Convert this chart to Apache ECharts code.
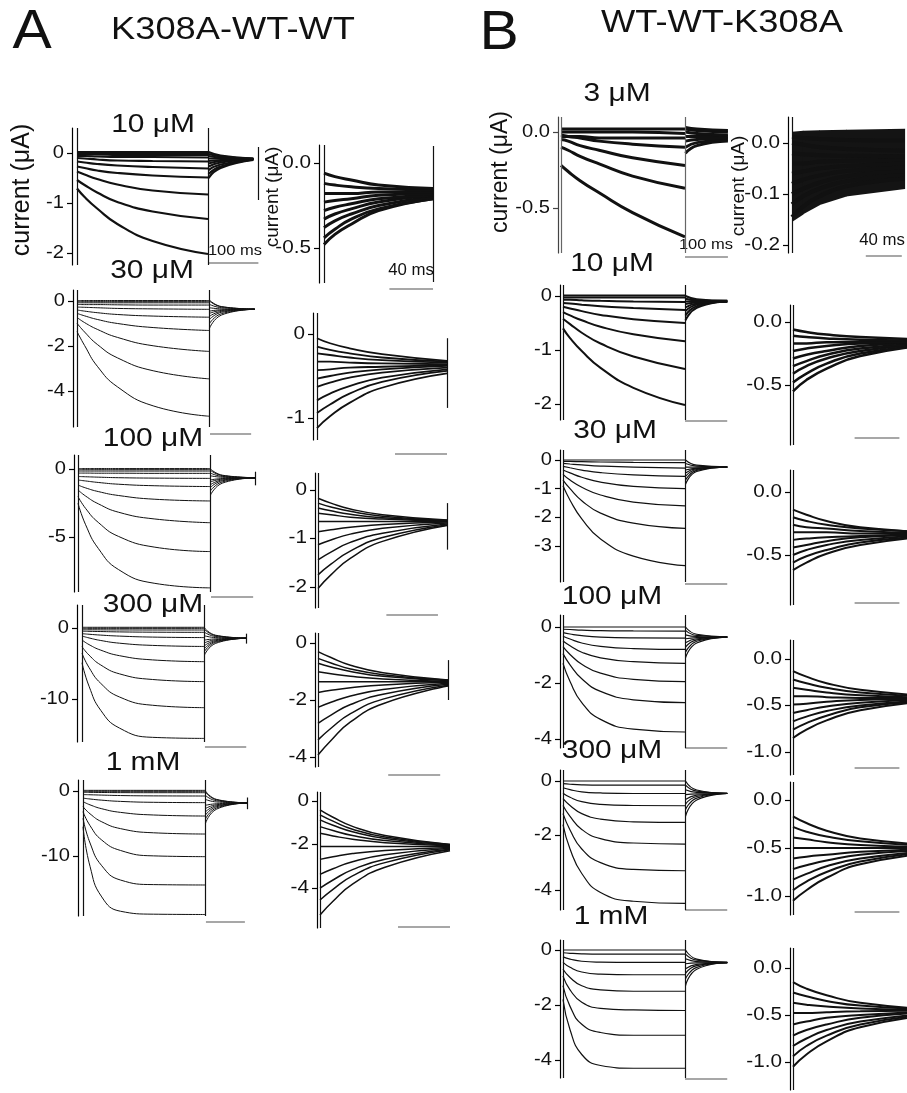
<!DOCTYPE html>
<html><head><meta charset="utf-8">
<script src="https://cdn.jsdelivr.net/npm/echarts@6/dist/echarts.min.js"></script>
<style>html,body{margin:0;padding:0;background:#fff}#c{width:907px;height:1093px}</style>
</head><body><div id="c"></div>
<script>
// ---------- time bases (ms) ----------
const T_MAIN = [0, 15, 40, 80, 150, 260];
const T_MAIN_TAIL = [261, 285, 350];
const T_TAIL_A = [0, 10, 25, 50, 100];
const T_TAIL_B = [0, 12, 30, 60, 125];

// ---------- tick labels ----------
const TICKS_A10 = [0, -1, -2];
const TICKS_A30 = [0, -2, -4];
const TICKS_A100 = [0, -5];
const TICKS_A300 = [0, -10];
const TICKS_A1M = [0, -10];
const TICKS_A10T = [0, -0.5];
const TICKS_A30T = [0, -1];
const TICKS_A100T = [0, -1, -2];
const TICKS_A300T = [0, -2, -4];
const TICKS_A1MT = [0, -2, -4];
const TICKS_B3 = [0, -0.5];
const TICKS_B10 = [0, -1, -2];
const TICKS_B30 = [0, -1, -2, -3];
const TICKS_B100 = [0, -2, -4];
const TICKS_B300 = [0, -2, -4];
const TICKS_B1M = [0, -2, -4];
const TICKS_B3T = [0, -0.1, -0.2];
const TICKS_B10T = [0, -0.5];
const TICKS_B30T = [0, -0.5];
const TICKS_B100T = [0, -0.5, -1];
const TICKS_B300T = [0, -0.5, -1];
const TICKS_B1MT = [0, -0.5, -1];

// ---------- A: K308A-WT-WT, activation (µA at T_MAIN) + tail (at T_MAIN_TAIL) ----------
const A10_pulse = [
 [-0.71,-0.88,-1.11,-1.42,-1.76,-2.02],
 [-0.54,-0.64,-0.79,-0.98,-1.17,-1.32],
 [-0.37,-0.43,-0.52,-0.63,-0.75,-0.83],
 [-0.27,-0.30,-0.35,-0.40,-0.45,-0.49],
 [-0.17,-0.19,-0.22,-0.25,-0.28,-0.31],
 [-0.10,-0.11,-0.13,-0.15,-0.16,-0.17],
 [-0.06,-0.06,-0.07,-0.08,-0.08,-0.09],
 [-0.03,-0.03,-0.03,-0.04,-0.04,-0.04],
 [0.00,0.00,0.00,0.00,0.00,-0.01],
 [0.02,0.02,0.02,0.02,0.02,0.02]];
const A10_tail = [
 [-0.50,-0.30,-0.14],[-0.42,-0.27,-0.13],[-0.34,-0.23,-0.13],[-0.27,-0.19,-0.12],
 [-0.21,-0.16,-0.12],[-0.16,-0.14,-0.12],[-0.11,-0.11,-0.12],[-0.06,-0.09,-0.12],
 [-0.02,-0.07,-0.11],[0.02,-0.05,-0.11]];

const A30_pulse = [
 [-1.36,-1.98,-2.90,-3.82,-4.66,-5.12],
 [-0.99,-1.38,-1.93,-2.53,-3.10,-3.46],
 [-0.73,-0.96,-1.26,-1.62,-1.99,-2.24],
 [-0.55,-0.66,-0.82,-1.00,-1.18,-1.31],
 [-0.40,-0.45,-0.52,-0.60,-0.67,-0.72],
 [-0.27,-0.28,-0.30,-0.33,-0.35,-0.37],
 [-0.15,-0.16,-0.16,-0.17,-0.18,-0.18],
 [-0.08,-0.08,-0.08,-0.08,-0.08,-0.08],
 [-0.03,-0.03,-0.03,-0.03,-0.03,-0.03],
 [0.02,0.02,0.02,0.02,0.02,0.02]];
const A30_tail = [
 [-1.21,-0.62,-0.37],[-1.00,-0.56,-0.37],[-0.82,-0.50,-0.37],[-0.68,-0.46,-0.37],
 [-0.55,-0.42,-0.37],[-0.45,-0.39,-0.37],[-0.30,-0.35,-0.37],[-0.15,-0.30,-0.36],
 [0.00,-0.26,-0.36],[0.04,-0.25,-0.36]];

const A100_pulse = [
 [-2.52,-4.10,-5.84,-7.40,-8.40,-8.74],
 [-2.03,-2.90,-3.93,-4.96,-5.74,-6.07],
 [-1.54,-1.99,-2.56,-3.18,-3.67,-3.95],
 [-1.18,-1.39,-1.66,-1.95,-2.22,-2.35],
 [-0.81,-0.88,-0.99,-1.12,-1.23,-1.29],
 [-0.55,-0.57,-0.60,-0.64,-0.67,-0.69],
 [-0.30,-0.30,-0.31,-0.31,-0.32,-0.32],
 [-0.15,-0.15,-0.15,-0.15,-0.15,-0.15],
 [-0.05,-0.05,-0.05,-0.05,-0.05,-0.05],
 [0.03,0.03,0.03,0.03,0.03,0.03]];
const A100_tail = [
 [-1.91,-1.03,-0.65],[-1.60,-0.94,-0.65],[-1.35,-0.86,-0.65],[-1.15,-0.80,-0.65],
 [-0.95,-0.74,-0.65],[-0.80,-0.70,-0.65],[-0.50,-0.61,-0.65],[-0.30,-0.55,-0.64],
 [-0.10,-0.49,-0.64],[0.00,-0.46,-0.64]];

const A300_pulse = [
 [-4.90,-8.20,-11.60,-14.10,-15.40,-15.55],
 [-3.57,-5.57,-7.80,-9.72,-10.88,-11.22],
 [-2.63,-3.82,-5.21,-6.46,-7.25,-7.55],
 [-1.69,-2.34,-3.12,-3.90,-4.49,-4.74],
 [-1.13,-1.40,-1.76,-2.14,-2.45,-2.60],
 [-0.80,-0.88,-1.00,-1.14,-1.28,-1.35],
 [-0.45,-0.47,-0.50,-0.55,-0.59,-0.61],
 [-0.25,-0.25,-0.26,-0.27,-0.28,-0.28],
 [-0.05,-0.05,-0.05,-0.05,-0.05,-0.05],
 [0.10,0.10,0.10,0.10,0.10,0.10]];
const A300_tail = [
 [-3.80,-2.16,-1.45],[-3.30,-2.01,-1.45],[-2.90,-1.89,-1.45],[-2.50,-1.77,-1.45],
 [-2.10,-1.65,-1.45],[-1.70,-1.53,-1.45],[-1.10,-1.35,-1.44],[-0.60,-1.20,-1.43],
 [-0.20,-1.08,-1.42],[0.00,-1.02,-1.42]];

const A1M_pulse = [
 [-5.50,-11.60,-16.30,-18.50,-18.95,-19.00],
 [-4.20,-8.00,-11.50,-13.70,-14.40,-14.46],
 [-3.18,-5.33,-7.55,-9.15,-9.98,-10.10],
 [-2.41,-3.51,-4.74,-5.79,-6.43,-6.62],
 [-1.64,-2.13,-2.73,-3.29,-3.69,-3.85],
 [-1.10,-1.23,-1.41,-1.60,-1.74,-1.79],
 [-0.55,-0.58,-0.63,-0.70,-0.75,-0.77],
 [-0.20,-0.21,-0.23,-0.25,-0.26,-0.26],
 [-0.05,-0.05,-0.05,-0.05,-0.05,-0.05],
 [0.10,0.10,0.10,0.10,0.10,0.10]];
const A1M_tail = [
 [-4.97,-2.78,-1.85],[-4.30,-2.59,-1.85],[-3.70,-2.41,-1.85],[-3.20,-2.26,-1.85],
 [-2.70,-2.11,-1.85],[-2.20,-1.96,-1.85],[-1.30,-1.69,-1.84],[-0.70,-1.51,-1.83],
 [-0.20,-1.36,-1.82],[0.00,-1.30,-1.82]];

// ---------- A: tail-current panels (µA at T_TAIL_A) ----------
const A10_tails = [
 [-0.48,-0.42,-0.36,-0.28,-0.21],[-0.44,-0.39,-0.33,-0.27,-0.21],[-0.38,-0.34,-0.30,-0.25,-0.20],
 [-0.33,-0.30,-0.27,-0.23,-0.19],[-0.28,-0.26,-0.24,-0.21,-0.19],[-0.23,-0.22,-0.21,-0.19,-0.18],
 [-0.18,-0.18,-0.18,-0.17,-0.17],[-0.12,-0.13,-0.14,-0.15,-0.16],[-0.06,-0.08,-0.10,-0.13,-0.15]];
const A30_tails = [
 [-1.12,-0.98,-0.82,-0.64,-0.47],[-0.94,-0.84,-0.71,-0.57,-0.44],[-0.79,-0.71,-0.62,-0.52,-0.42],
 [-0.63,-0.58,-0.52,-0.46,-0.40],[-0.53,-0.50,-0.46,-0.42,-0.38],[-0.43,-0.42,-0.40,-0.39,-0.37],
 [-0.33,-0.33,-0.34,-0.35,-0.36],[-0.23,-0.25,-0.28,-0.31,-0.34],[-0.15,-0.19,-0.23,-0.28,-0.33],
 [-0.05,-0.11,-0.17,-0.24,-0.32]];
const A100_tails = [
 [-2.03,-1.75,-1.41,-1.06,-0.73],[-1.75,-1.53,-1.26,-0.98,-0.72],[-1.44,-1.28,-1.08,-0.89,-0.70],
 [-1.13,-1.03,-0.91,-0.79,-0.68],[-0.86,-0.82,-0.77,-0.71,-0.66],[-0.65,-0.65,-0.65,-0.65,-0.65],
 [-0.48,-0.51,-0.56,-0.60,-0.64],[-0.37,-0.43,-0.50,-0.57,-0.63],[-0.27,-0.35,-0.44,-0.54,-0.63],
 [-0.17,-0.27,-0.39,-0.51,-0.62]];
const A300_tails = [
 [-3.93,-3.42,-2.77,-2.13,-1.51],[-3.40,-2.99,-2.48,-1.97,-1.48],[-2.82,-2.53,-2.16,-1.80,-1.45],
 [-2.26,-2.08,-1.86,-1.63,-1.41],[-1.74,-1.66,-1.57,-1.47,-1.38],[-1.36,-1.36,-1.36,-1.36,-1.36],
 [-1.01,-1.08,-1.17,-1.26,-1.34],[-0.71,-0.84,-1.00,-1.17,-1.32],[-0.54,-0.70,-0.91,-1.11,-1.31],
 [-0.30,-0.51,-0.78,-1.04,-1.30]];
const A1M_tails = [
 [-5.25,-4.62,-3.83,-3.05,-2.29],[-4.56,-4.07,-3.45,-2.84,-2.25],[-4.02,-3.64,-3.16,-2.68,-2.22],
 [-3.38,-3.12,-2.80,-2.48,-2.18],[-2.69,-2.57,-2.42,-2.28,-2.14],[-2.10,-2.10,-2.10,-2.10,-2.10],
 [-1.49,-1.61,-1.76,-1.92,-2.06],[-1.18,-1.36,-1.59,-1.82,-2.04],[-0.87,-1.12,-1.42,-1.73,-2.03],
 [-0.64,-0.93,-1.30,-1.66,-2.01],[-0.41,-0.75,-1.17,-1.59,-2.00]];

// ---------- B: WT-WT-K308A, activation + tail ----------
const B3_pulse = [
 [-0.22,-0.26,-0.32,-0.40,-0.53,-0.69],
 [-0.10,-0.12,-0.16,-0.21,-0.29,-0.37],
 [-0.05,-0.06,-0.09,-0.12,-0.17,-0.22],
 [-0.02,-0.03,-0.04,-0.06,-0.08,-0.10],
 [-0.03,-0.03,-0.03,-0.04,-0.04,-0.04],
 [0.00,0.00,0.00,0.00,0.00,-0.01],
 [0.02,0.02,0.02,0.02,0.02,0.02]];
const B3_tail = [
 [-0.14,-0.09,-0.06],[-0.10,-0.07,-0.05],[-0.06,-0.05,-0.04],[-0.03,-0.03,-0.03],
 [0.00,-0.01,-0.02],[0.02,0.01,0.00],[0.03,0.02,0.01]];

const B10_pulse = [
 [-0.60,-0.78,-1.02,-1.33,-1.70,-2.02],
 [-0.42,-0.52,-0.68,-0.88,-1.12,-1.35],
 [-0.30,-0.36,-0.45,-0.57,-0.71,-0.84],
 [-0.20,-0.23,-0.28,-0.35,-0.43,-0.50],
 [-0.13,-0.14,-0.16,-0.19,-0.22,-0.26],
 [-0.07,-0.07,-0.08,-0.09,-0.10,-0.11],
 [-0.03,-0.03,-0.03,-0.03,-0.03,-0.03],
 [0.01,0.01,0.01,0.01,0.01,0.01]];
const B10_tail = [
 [-0.45,-0.22,-0.10],[-0.36,-0.19,-0.10],[-0.28,-0.16,-0.10],[-0.21,-0.14,-0.10],
 [-0.15,-0.12,-0.10],[-0.10,-0.10,-0.10],[-0.05,-0.08,-0.09],[0.00,-0.06,-0.09]];

const B30_pulse = [
 [-0.90,-1.40,-2.05,-2.75,-3.35,-3.68],
 [-0.70,-1.00,-1.42,-1.85,-2.20,-2.38],
 [-0.50,-0.70,-0.95,-1.22,-1.47,-1.60],
 [-0.35,-0.45,-0.60,-0.77,-0.92,-1.00],
 [-0.22,-0.27,-0.35,-0.44,-0.52,-0.57],
 [-0.12,-0.14,-0.17,-0.21,-0.25,-0.28],
 [-0.05,-0.05,-0.06,-0.07,-0.08,-0.09],
 [0.00,0.00,0.00,0.00,0.00,0.00]];
const B30_tail = [
 [-0.85,-0.40,-0.25],[-0.70,-0.36,-0.25],[-0.57,-0.33,-0.25],[-0.45,-0.30,-0.25],
 [-0.35,-0.28,-0.25],[-0.25,-0.25,-0.25],[-0.12,-0.21,-0.24],[0.00,-0.18,-0.24]];

const B100_pulse = [
 [-1.30,-1.95,-2.70,-3.30,-3.65,-3.75],
 [-0.95,-1.35,-1.85,-2.30,-2.60,-2.70],
 [-0.70,-0.98,-1.33,-1.65,-1.87,-1.95],
 [-0.50,-0.67,-0.90,-1.10,-1.24,-1.30],
 [-0.33,-0.43,-0.57,-0.69,-0.77,-0.80],
 [-0.20,-0.25,-0.31,-0.36,-0.39,-0.40],
 [-0.08,-0.09,-0.11,-0.13,-0.14,-0.15],
 [0.00,0.00,0.00,0.00,0.00,0.00]];
const B100_tail = [
 [-1.10,-0.57,-0.36],[-0.90,-0.51,-0.36],[-0.72,-0.46,-0.36],[-0.56,-0.42,-0.36],
 [-0.42,-0.38,-0.36],[-0.28,-0.34,-0.36],[-0.12,-0.30,-0.35],[0.00,-0.26,-0.35]];

const B300_pulse = [
 [-1.60,-2.50,-3.40,-4.10,-4.42,-4.50],
 [-1.20,-1.80,-2.50,-3.00,-3.25,-3.30],
 [-0.90,-1.30,-1.78,-2.12,-2.28,-2.32],
 [-0.65,-0.90,-1.20,-1.40,-1.50,-1.52],
 [-0.45,-0.60,-0.76,-0.86,-0.90,-0.91],
 [-0.25,-0.32,-0.40,-0.44,-0.46,-0.46],
 [-0.10,-0.12,-0.14,-0.15,-0.15,-0.15],
 [0.00,0.00,0.00,0.00,0.00,0.00]];
const B300_tail = [
 [-1.30,-0.70,-0.46],[-1.05,-0.63,-0.46],[-0.85,-0.57,-0.46],[-0.68,-0.52,-0.46],
 [-0.50,-0.47,-0.46],[-0.32,-0.42,-0.45],[-0.15,-0.37,-0.45],[0.00,-0.33,-0.45]];

const B1M_pulse = [
 [-1.80,-2.90,-3.80,-4.20,-4.30,-4.30],
 [-1.30,-2.05,-2.70,-3.00,-3.10,-3.10],
 [-0.95,-1.45,-1.90,-2.12,-2.18,-2.20],
 [-0.70,-1.00,-1.30,-1.45,-1.50,-1.50],
 [-0.45,-0.63,-0.80,-0.88,-0.90,-0.90],
 [-0.25,-0.33,-0.41,-0.44,-0.45,-0.45],
 [-0.10,-0.12,-0.14,-0.15,-0.15,-0.15],
 [0.00,0.00,0.00,0.00,0.00,0.00]];
const B1M_tail = [
 [-1.30,-0.70,-0.46],[-1.05,-0.63,-0.46],[-0.85,-0.57,-0.46],[-0.68,-0.52,-0.46],
 [-0.50,-0.47,-0.46],[-0.32,-0.42,-0.45],[-0.15,-0.37,-0.45],[0.00,-0.33,-0.45]];

// ---------- B: tail-current panels (µA at T_TAIL_B) ----------
const B3_tails = [
 [-0.145,-0.125,-0.105,-0.085,-0.070],[-0.120,-0.105,-0.090,-0.075,-0.062],
 [-0.100,-0.090,-0.078,-0.065,-0.055],[-0.080,-0.072,-0.064,-0.055,-0.048],
 [-0.060,-0.056,-0.050,-0.045,-0.040],[-0.040,-0.040,-0.037,-0.035,-0.033],
 [-0.020,-0.022,-0.024,-0.025,-0.026],[0.000,-0.003,-0.008,-0.012,-0.015],
 [0.012,0.010,0.008,0.006,0.005]];
// envelope of the noisy band in the 3 µM tail panel (µA at T_TAIL_B)
const B3_band_lo = [-0.155, -0.140, -0.122, -0.105, -0.090];
const B3_band_hi = [0.022, 0.024, 0.025, 0.026, 0.028];
const B10_tails = [
 [-0.55,-0.46,-0.37,-0.27,-0.18],[-0.48,-0.41,-0.33,-0.25,-0.18],[-0.41,-0.35,-0.29,-0.23,-0.17],
 [-0.35,-0.31,-0.26,-0.21,-0.17],[-0.29,-0.26,-0.23,-0.19,-0.16],[-0.23,-0.21,-0.19,-0.17,-0.16],
 [-0.17,-0.17,-0.16,-0.16,-0.15],[-0.11,-0.12,-0.13,-0.14,-0.15],[-0.06,-0.08,-0.10,-0.12,-0.14]];
const B30_tails = [
 [-0.62,-0.56,-0.49,-0.42,-0.35],[-0.56,-0.51,-0.46,-0.40,-0.35],[-0.50,-0.46,-0.42,-0.38,-0.34],
 [-0.44,-0.42,-0.39,-0.36,-0.34],[-0.38,-0.37,-0.36,-0.35,-0.33],[-0.32,-0.32,-0.32,-0.33,-0.33],
 [-0.26,-0.28,-0.29,-0.31,-0.33],[-0.20,-0.23,-0.26,-0.29,-0.32],[-0.14,-0.18,-0.23,-0.28,-0.32]];
const B100_tails = [
 [-0.85,-0.76,-0.66,-0.55,-0.45],[-0.76,-0.69,-0.61,-0.52,-0.45],[-0.67,-0.62,-0.56,-0.50,-0.44],
 [-0.58,-0.55,-0.51,-0.47,-0.43],[-0.49,-0.48,-0.46,-0.44,-0.43],[-0.40,-0.40,-0.41,-0.42,-0.42],
 [-0.31,-0.33,-0.36,-0.39,-0.42],[-0.22,-0.26,-0.31,-0.36,-0.41],[-0.13,-0.19,-0.26,-0.33,-0.40]];
const B300_tails = [
 [-1.05,-0.94,-0.81,-0.67,-0.55],[-0.94,-0.85,-0.75,-0.64,-0.54],[-0.83,-0.77,-0.69,-0.61,-0.53],
 [-0.72,-0.68,-0.63,-0.57,-0.52],[-0.61,-0.59,-0.57,-0.54,-0.51],[-0.50,-0.50,-0.50,-0.50,-0.50],
 [-0.39,-0.41,-0.44,-0.47,-0.49],[-0.28,-0.33,-0.38,-0.43,-0.48],[-0.17,-0.24,-0.32,-0.40,-0.47]];
const B1M_tails = [
 [-1.05,-0.92,-0.78,-0.63,-0.50],[-0.94,-0.83,-0.72,-0.60,-0.49],[-0.83,-0.75,-0.66,-0.57,-0.48],
 [-0.72,-0.66,-0.60,-0.53,-0.47],[-0.60,-0.57,-0.53,-0.50,-0.46],[-0.48,-0.48,-0.47,-0.46,-0.45],
 [-0.37,-0.39,-0.41,-0.43,-0.45],[-0.26,-0.30,-0.35,-0.40,-0.44],[-0.15,-0.22,-0.29,-0.37,-0.44]];

// ---------- layout (pixels) & styles ----------
const FONT = '"Liberation Sans", Arial, Helvetica, sans-serif';
const PANELS = [
 {kind:'main', pulse:A10_pulse, tail:A10_tail, ticks:TICKS_A10, dec:0, axisX:72, t0X:77, tEndX:208, rightX:262, yTop:128, yBot:265, zeroY:153, ppu:50, lw:2.2, bar:[260,360,263], endMark:[359,0.12,-0.94]},
 {kind:'main', pulse:A30_pulse, tail:A30_tail, ticks:TICKS_A30, dec:0, axisX:73, t0X:77, tEndX:209, rightX:255, yTop:290, yBot:427, zeroY:301, ppu:22.5, lw:1, bar:[262,343,434]},
 {kind:'main', pulse:A100_pulse, tail:A100_tail, ticks:TICKS_A100, dec:0, axisX:74, t0X:78, tEndX:210, rightX:258, yTop:455, yBot:592, zeroY:469, ppu:13.6, lw:1, bar:[262,345,597], endMark:[350,-0.2,-1.2]},
 {kind:'main', pulse:A300_pulse, tail:A300_tail, ticks:TICKS_A300, dec:0, axisX:77, t0X:82, tEndX:204, rightX:250, yTop:605, yBot:742, zeroY:628, ppu:7.1, lw:1, bar:[262,350,747], endMark:[350,-0.8,-2.2]},
 {kind:'main', pulse:A1M_pulse, tail:A1M_tail, ticks:TICKS_A1M, dec:0, axisX:78, t0X:83, tEndX:205, rightX:250, yTop:780, yBot:916, zeroY:791, ppu:6.5, lw:1, bar:[262,345,922], endMark:[350,-1.0,-2.8]},
 {kind:'tailA', traces:A10_tails, ticks:TICKS_A10T, dec:1, axisX:319, t0X:324, tEndX:433, rightX:445, yTop:145, yBot:283, zeroY:163, ppu:170, lw:3, bar:[60,100,289], endMark:[100,0.1,-0.7]},
 {kind:'tailA', traces:A30_tails, ticks:TICKS_A30T, dec:0, axisX:313, t0X:317, tEndX:447, rightX:455, yTop:313, yBot:440, zeroY:334, ppu:84, lw:1.8, bar:[60,100,454], endMark:[100,-0.05,-0.88]},
 {kind:'tailA', traces:A100_tails, ticks:TICKS_A100T, dec:0, axisX:315, t0X:318, tEndX:447, rightX:455, yTop:473, yBot:608, zeroY:490, ppu:48.5, lw:1.5, bar:[53,93,615], endMark:[100,-0.27,-1.23]},
 {kind:'tailA', traces:A300_tails, ticks:TICKS_A300T, dec:0, axisX:315, t0X:318, tEndX:448, rightX:455, yTop:633, yBot:767, zeroY:643, ppu:28.5, lw:1.5, bar:[54,94,775], endMark:[100,-0.6,-2.0]},
 {kind:'tailA', traces:A1M_tails, ticks:TICKS_A1MT, dec:0, axisX:317, t0X:320, tEndX:450, rightX:455, yTop:792, yBot:928, zeroY:801, ppu:21.7, lw:1.5, bar:[60,100,927]},
 {kind:'main', pulse:B3_pulse, tail:B3_tail, ticks:TICKS_B3, dec:1, axisX:558, t0X:561, tEndX:685, rightX:735, yTop:117, yBot:253, zeroY:132, ppu:152, lw:3, bar:[260,350,257], gray:true},
 {kind:'main', pulse:B10_pulse, tail:B10_tail, ticks:TICKS_B10, dec:0, axisX:560, t0X:563, tEndX:685, rightX:735, yTop:285, yBot:420, zeroY:296, ppu:54, lw:2, bar:[260,350,421]},
 {kind:'main', pulse:B30_pulse, tail:B30_tail, ticks:TICKS_B30, dec:0, axisX:560, t0X:563, tEndX:685, rightX:735, yTop:450, yBot:582, zeroY:460, ppu:28.7, lw:1.2, bar:[260,350,584]},
 {kind:'main', pulse:B100_pulse, tail:B100_tail, ticks:TICKS_B100, dec:0, axisX:560, t0X:563, tEndX:685, rightX:735, yTop:615, yBot:748, zeroY:627, ppu:28, lw:1.2, bar:[260,350,748]},
 {kind:'main', pulse:B300_pulse, tail:B300_tail, ticks:TICKS_B300, dec:0, axisX:560, t0X:563, tEndX:685, rightX:735, yTop:770, yBot:910, zeroY:781, ppu:27.2, lw:1.2, bar:[260,350,910]},
 {kind:'main', pulse:B1M_pulse, tail:B1M_tail, ticks:TICKS_B1M, dec:0, axisX:560, t0X:563, tEndX:685, rightX:735, yTop:940, yBot:1078, zeroY:950, ppu:27.5, lw:1.2, bar:[260,350,1079]},
 {kind:'tailB', traces:B3_tails, band:[B3_band_lo, B3_band_hi], ticks:TICKS_B3T, dec:1, axisX:788, t0X:792, tEndX:882, rightX:907, yTop:117, yBot:253, zeroY:143, ppu:510, lw:4, bar:[82,122,256]},
 {kind:'tailB', traces:B10_tails, ticks:TICKS_B10T, dec:1, axisX:790, t0X:793, tEndX:905, rightX:907, yTop:305, yBot:445, zeroY:322, ppu:126, lw:2.5, bar:[55,95,438]},
 {kind:'tailB', traces:B30_tails, ticks:TICKS_B30T, dec:1, axisX:790, t0X:793, tEndX:905, rightX:907, yTop:470, yBot:605, zeroY:492, ppu:126, lw:2, bar:[55,95,603]},
 {kind:'tailB', traces:B100_tails, ticks:TICKS_B100T, dec:1, axisX:790, t0X:793, tEndX:905, rightX:907, yTop:640, yBot:775, zeroY:659, ppu:93, lw:2, bar:[55,95,768]},
 {kind:'tailB', traces:B300_tails, ticks:TICKS_B300T, dec:1, axisX:790, t0X:793, tEndX:905, rightX:907, yTop:782, yBot:915, zeroY:800, ppu:96, lw:2, bar:[55,95,912]},
 {kind:'tailB', traces:B1M_tails, ticks:TICKS_B1MT, dec:1, axisX:790, t0X:793, tEndX:905, rightX:907, yTop:948, yBot:1090, zeroY:968, ppu:94, lw:2}
];

const TEXTS = [
 {t:'A', x:32, y:33, s:56, k:1.05}, {t:'K308A-WT-WT', x:233, y:30, s:31, k:1.17},
 {t:'B', x:499, y:34, s:56, k:1.05}, {t:'WT-WT-K308A', x:722, y:23, s:31, k:1.17},
 {t:'10 μM', x:153, y:125, s:26, k:1.15}, {t:'30 μM', x:152, y:271, s:26, k:1.15}, {t:'100 μM', x:153, y:439, s:26, k:1.15},
 {t:'300 μM', x:153, y:605, s:26, k:1.15}, {t:'1 mM', x:143, y:763, s:26, k:1.15},
 {t:'3 μM', x:617, y:94, s:26, k:1.15}, {t:'10 μM', x:612, y:264, s:26, k:1.15}, {t:'30 μM', x:615, y:431, s:26, k:1.15},
 {t:'100 μM', x:612, y:597, s:26, k:1.15}, {t:'300 μM', x:612, y:751, s:26, k:1.15}, {t:'1 mM', x:611, y:917, s:26, k:1.15},
 {t:'100 ms', x:235, y:251, s:15, k:1.1}, {t:'40 ms', x:411, y:271, s:16, k:1.05},
 {t:'100 ms', x:706, y:245, s:15, k:1.1}, {t:'40 ms', x:882, y:241, s:16, k:1.05}
];
const YLABELS = [
 {t:'current (μA)', x:22, y:190, s:25}, {t:'current (μA)', x:273, y:197, s:19},
 {t:'current (μA)', x:501, y:172, s:23}, {t:'current (μA)', x:739, y:186, s:19}
];

// ---------- build ----------
const chart = echarts.init(document.getElementById('c'), null, {renderer:'canvas', width:907, height:1093});
const grids = [], xAxes = [], yAxes = [], series = [];
PANELS.forEach((p, g) => {
  const span = p.kind === 'main' ? 260 : 100;
  const ppm = (p.tEndX - p.t0X) / span;
  const xmin = -(p.t0X - p.axisX) / ppm;
  const xmax = xmin + (p.rightX - p.axisX) / ppm;
  const ymax = (p.zeroY - p.yTop) / p.ppu;
  const ymin = -(p.yBot - p.zeroY) / p.ppu;
  const axisCol = p.gray ? '#444' : '#000';
  grids.push({left:p.axisX, top:p.yTop, width:p.rightX - p.axisX, height:p.yBot - p.yTop});
  xAxes.push({gridIndex:g, type:'value', min:xmin, max:xmax, show:false});
  yAxes.push({gridIndex:g, type:'value', min:ymin, max:ymax, position:'left',
    axisLine:{show:true, onZero:false, lineStyle:{color:axisCol, width:1.2}},
    axisTick:{show:true, length:5, customValues:p.ticks, lineStyle:{color:axisCol, width:1.2}},
    axisLabel:{show:false}, splitLine:{show:false}});
  const mk = [{xAxis:0}];
  if (p.kind === 'main') mk.push({xAxis:260});
  if (p.endMark) mk.push([{coord:[p.endMark[0], p.endMark[1]]}, {coord:[p.endMark[0], p.endMark[2]]}]);
  const add = (times, vals, first) => {
    const s = {type:'line', xAxisIndex:g, yAxisIndex:g, data:times.map((t,k)=>[t, vals[k]]),
      smooth:0.5, symbol:'none', showSymbol:false, silent:true, animation:false,
      lineStyle:{width:p.lw, color:'#111'}};
    if (first) s.markLine = {silent:true, symbol:['none','none'], label:{show:false}, animation:false,
      lineStyle:{type:'solid', color:p.gray ? '#666' : '#111', width:1.2}, data:mk};
    series.push(s);
  };
  if (p.kind === 'main') {
    p.pulse.forEach((tr, i) => add(T_MAIN, tr, i === 0));
    p.tail.forEach(tr => add(T_MAIN_TAIL, tr, false));
  } else {
    const T = p.kind === 'tailA' ? T_TAIL_A : T_TAIL_B;
    if (p.band) {
      const lo = p.band[0], hi = p.band[1];
      series.push({type:'custom', xAxisIndex:g, yAxisIndex:g, silent:true, animation:false, clip:true,
        data:T.map((t,k)=>[t, lo[k], hi[k]]),
        renderItem:(params, api) => {
          const i = params.dataIndex;
          if (i >= T.length - 1) return null;
          const pts = [api.coord([T[i], lo[i]]), api.coord([T[i+1], lo[i+1]]),
                       api.coord([T[i+1], hi[i+1]]), api.coord([T[i], hi[i]])];
          pts[1][0] += 0.6; pts[2][0] += 0.6;
          return {type:'polygon', shape:{points:pts}, style:{fill:'#141414'}};
        }});
    }
    p.traces.forEach((tr, i) => add(T, tr, i === 0));
  }
});

chart.setOption({animation:false, backgroundColor:'#fff', grid:grids, xAxis:xAxes, yAxis:yAxes, series:series});

const graphic = [];
const txt = (o, rot) => ({type:'text', x:o.x, y:o.y, rotation:rot || 0, scaleX:o.k || 1, silent:true,
  style:{text:o.t, fontSize:o.s, fontFamily:FONT, fill:'#111', textAlign:o.al || 'center', align:o.al || 'center',
         textVerticalAlign:'middle', verticalAlign:'middle'}});
TEXTS.forEach(o => graphic.push(txt(o)));
YLABELS.forEach(o => graphic.push(txt(o, Math.PI / 2)));
PANELS.forEach((p, g) => {
  // tick labels placed through the axis scale
  p.ticks.forEach(v => {
    const pt = chart.convertToPixel({gridIndex:g}, [0, v]);
    graphic.push(txt({t:v.toFixed(p.dec), x:p.axisX - 8, y:pt[1], s:p.kind === 'main' ? 17.5 : 18, k:1.15, al:'right'}));
  });
  if (!p.bar) return;
  const a = chart.convertToPixel({gridIndex:g}, [p.bar[0], 0]);
  const b = chart.convertToPixel({gridIndex:g}, [p.bar[1], 0]);
  graphic.push({type:'line', silent:true, shape:{x1:a[0], y1:p.bar[2], x2:b[0], y2:p.bar[2]},
    style:{stroke:'#8a8a8a', lineWidth:1.5}});
});
chart.setOption({graphic:graphic});
</script></body></html>
